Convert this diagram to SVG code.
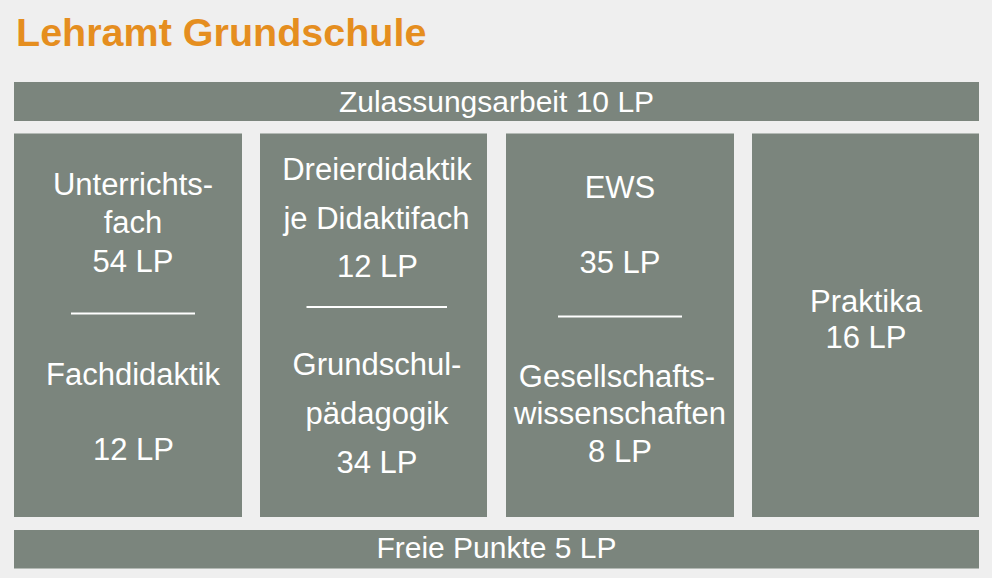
<svg xmlns="http://www.w3.org/2000/svg" width="992" height="578" viewBox="0 0 992 578">
<style>
.box{fill:#7b857d}
.t{font-family:"Liberation Sans",Arial,sans-serif;fill:#ffffff;text-anchor:middle;font-size:31px}
.bar{font-size:30px}
.sep{stroke:#ffffff;stroke-width:2}
.title{font-family:"Liberation Sans",Arial,sans-serif;font-weight:bold;font-size:39.5px;fill:#e58e1f}
</style>
<rect x="0" y="0" width="992" height="578" fill="#efefef"/>
<text class="title" x="16" y="46">Lehramt Grundschule</text>
<g id="zulassungsarbeit">
<rect class="box" x="14" y="82" width="965" height="39"/>
<text class="t bar" x="496.5" y="112">Zulassungsarbeit 10 LP</text>
</g>
<g id="unterrichtsfach">
<rect class="box" x="14" y="133.5" width="228" height="383.5"/>
<text class="t" x="133" y="195">Unterrichts-</text>
<text class="t" x="133" y="233">fach</text>
<text class="t" x="133" y="271.5">54 LP</text>
<line class="sep" x1="71" y1="313.5" x2="195" y2="313.5"/>
<text class="t" x="133" y="385">Fachdidaktik</text>
<text class="t" x="133.5" y="460">12 LP</text>
</g>
<g id="dreierdidaktik">
<rect class="box" x="260" y="133.5" width="227" height="383.5"/>
<text class="t" x="377" y="180">Dreierdidaktik</text>
<text class="t" x="376.5" y="229">je Didaktifach</text>
<text class="t" x="377.5" y="276.5">12 LP</text>
<line class="sep" x1="306.5" y1="307" x2="447" y2="307"/>
<text class="t" x="377" y="375">Grundschul-</text>
<text class="t" x="377" y="424">pädagogik</text>
<text class="t" x="377" y="473">34 LP</text>
</g>
<g id="ews">
<rect class="box" x="506" y="133.5" width="228" height="383.5"/>
<text class="t" x="620" y="197.5">EWS</text>
<text class="t" x="620" y="273">35 LP</text>
<line class="sep" x1="558" y1="316.5" x2="682" y2="316.5"/>
<text class="t" x="617" y="386.5">Gesellschafts-</text>
<text class="t" x="620" y="424">wissenschaften</text>
<text class="t" x="620" y="462">8 LP</text>
</g>
<g id="praktika">
<rect class="box" x="752" y="133.5" width="227" height="383.5"/>
<text class="t" x="866" y="311.5">Praktika</text>
<text class="t" x="866" y="348">16 LP</text>
</g>
<g id="freie-punkte">
<rect class="box" x="14" y="530" width="965" height="38.5"/>
<text class="t bar" x="496.5" y="558">Freie Punkte 5 LP</text>
</g>
<g id="connectors"></g>
</svg>
